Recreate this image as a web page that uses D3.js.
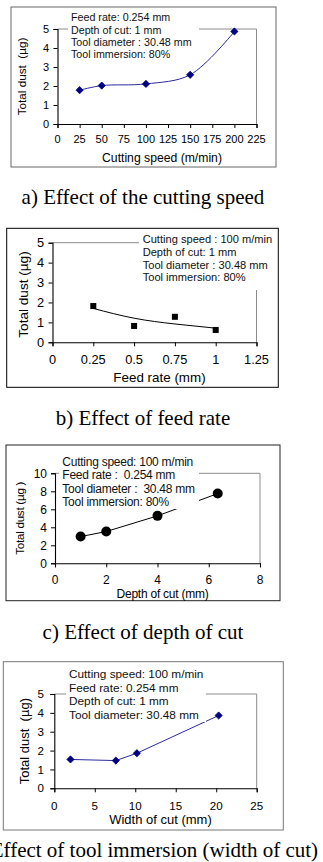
<!DOCTYPE html>
<html><head><meta charset="utf-8">
<script src="https://cdn.jsdelivr.net/npm/d3@7"></script>
<style>
html,body{margin:0;padding:0;background:#fff;}
svg{display:block;}
text{font-family:Arial,"Liberation Sans",sans-serif;fill:#000;white-space:pre;}
.cap{font-family:"Times New Roman","Liberation Serif",serif;}
</style></head>
<body>
<svg id="chart" width="323" height="862"></svg>
<script>
// ---------- data ----------
const speedX = [25, 50, 100, 150, 200];
const speedDust = [1.78, 2.02, 2.11, 2.59, 4.87];
const speedTicksX = [0, 25, 50, 75, 100, 125, 150, 175, 200, 225];
const speedTicksY = [0, 1, 2, 3, 4, 5];
const speedNotes = ["Feed rate: 0.254 mm", "Depth of cut: 1 mm", "Tool diameter : 30.48 mm", "Tool immersion: 80%"];

const feedX = [0.25, 0.5, 0.75, 1.0];
const feedDust = [1.82, 0.82, 1.28, 0.62];
const feedTrendX = [0.25, 0.5, 0.75, 1.0];
const feedTrendY = [1.70, 1.21, 0.92, 0.71];
const feedTicksX = [0, 0.25, 0.5, 0.75, 1, 1.25];
const feedTicksY = [0, 1, 2, 3, 4, 5];
const feedNotes = ["Cutting speed : 100 m/min", "Depth of cut: 1 mm", "Tool diameter : 30.48 mm", "Tool immersion: 80%"];

const depthX = [1, 2, 4, 6.35];
const depthDust = [2.97, 3.53, 5.27, 7.75];
const depthTicksX = [0, 2, 4, 6, 8];
const depthTicksY = [0, 2, 4, 6, 8, 10];
const depthNotes = ["Cutting speed: 100 m/min", "Feed rate :  0.254 mm", "Tool diameter :  30.48 mm", "Tool immersion: 80%"];

const widthX = [2, 7.6, 10.2, 20.3];
const widthDust = [1.53, 1.47, 1.86, 3.86];
const widthTicksX = [0, 5, 10, 15, 20, 25];
const widthTicksY = [0, 1, 2, 3, 4, 5];
const widthNotes = ["Cutting speed: 100 m/min", "Feed rate: 0.254 mm", "Depth of cut: 1 mm", "Tool diameter: 30.48 mm"];

const captions = ["a) Effect of the cutting speed", "b) Effect of feed rate", "c) Effect of depth of cut", "d) Effect of tool immersion (width of cut)"];
const xTitles = ["Cutting speed (m/min)", "Feed rate (mm)", "Depth of cut (mm)", "Width of cut (mm)"];
const yTitles = ["Total dust  (\u00b5g)", "Total dust (\u00b5g)", "Total dust (\u00b5g )", "Total dust  (\u00b5g)"];

// ---------- layout ----------
const svg = d3.select("#chart");

const panels = [
  {xs: speedX, ys: speedDust, tx: speedTicksX, ty: speedTicksY, notes: speedNotes,
   box: [11, 7, 276, 167], boxColor: "#666", plot: [57.5, 29, 256.5, 124],
   tickFont: 11, titleFont: 12.2, yTitleFont: 11.7, noteFont: 10.7, ls: 0,
   xTickY: 142.5, xTitleY: 161.5, yTitleX: 25.5, yLabX: 49,
   notesX: 71, notesY: 21.3, notesDY: 12.25, noteBg: [68, 9, 199, 61],
   line: "smooth", lineColor: "#2a2aa0", marker: "diamond", markerColor: "#000080",
   caption: 0, capY: 204},
  {xs: feedX, ys: feedDust, tx: feedTicksX, ty: feedTicksY, notes: feedNotes,
   box: [6.7, 228.3, 278.3, 387.3], boxColor: "#000", plot: [52.5, 242.7, 256.5, 342.3],
   tickFont: 12.8, titleFont: 13.4, yTitleFont: 13.6, noteFont: 11.1, ls: 0,
   xTickY: 363.5, xTitleY: 382.3, yTitleX: 28, yLabX: 44,
   notesX: 142.7, notesY: 243.3, notesDY: 12.7, noteBg: [139, 231, 275, 290],
   line: "trend", lineColor: "#000", marker: "square", markerColor: "#000",
   caption: 1, capY: 425},
  {xs: depthX, ys: depthDust, tx: depthTicksX, ty: depthTicksY, notes: depthNotes,
   box: [6, 445, 280, 600.7], boxColor: "#222", plot: [55, 473.3, 260, 563.3],
   tickFont: 12, titleFont: 12, yTitleFont: 11.6, noteFont: 12, ls: -0.25,
   xTickY: 583.5, xTitleY: 597.5, yTitleX: 24, yLabX: 47,
   notesX: 62.3, notesY: 466.3, notesDY: 13.1, noteBg: [59, 452, 199, 509],
   line: "linear", lineColor: "#000", marker: "circle", markerColor: "#000",
   caption: 2, capY: 639.3},
  {xs: widthX, ys: widthDust, tx: widthTicksX, ty: widthTicksY, notes: widthNotes,
   box: [3.3, 661.7, 283.3, 830], boxColor: "#777", plot: [54.3, 694, 256.7, 788.3],
   tickFont: 11.6, titleFont: 13, yTitleFont: 13, noteFont: 11.8, ls: 0,
   xTickY: 809.5, xTitleY: 823.8, yTitleX: 28.5, yLabX: 44,
   notesX: 69, notesY: 677.8, notesDY: 13.7, noteBg: [66, 664, 206, 722],
   line: "linear", lineColor: "#2a2aa0", marker: "diamond", markerColor: "#000080",
   caption: 3, capY: 857}
];

// Excel-style square diamond
const excelDiamond = {
  draw(ctx, size) {
    const r = Math.sqrt(size / 2);
    ctx.moveTo(0, -r); ctx.lineTo(r, 0); ctx.lineTo(0, r); ctx.lineTo(-r, 0); ctx.closePath();
  }
};

panels.forEach(p => {
  const g = svg.append("g");
  const [bx0, by0, bx1, by1] = p.box;
  const [px0, py0, px1, py1] = p.plot;
  const x = d3.scaleLinear().domain(d3.extent(p.tx)).range([px0, px1]);
  const y = d3.scaleLinear().domain(d3.extent(p.ty)).range([py1, py0]);

  // outer chart box
  g.append("rect").attr("x", bx0).attr("y", by0).attr("width", bx1 - bx0).attr("height", by1 - by0)
    .attr("fill", "#fff").attr("stroke", p.boxColor).attr("stroke-width", 1);

  // plot area border (top / right, gray)
  g.append("path").attr("d", `M${px0},${py0}H${px1}V${py1}`)
    .attr("fill", "none").attr("stroke", "#8c8c8c").attr("stroke-width", 1);

  // axes
  const xAxis = d3.axisBottom(x).tickValues(p.tx).tickSize(4).tickFormat(() => "");
  const yAxis = d3.axisLeft(y).tickValues(p.ty).tickSize(4).tickFormat(() => "");
  const gx = g.append("g").attr("transform", `translate(0,${py1})`).call(xAxis);
  const gy = g.append("g").attr("transform", `translate(${px0},0)`).call(yAxis);
  [gx, gy].forEach(a => {
    a.select(".domain").attr("stroke", "#000").attr("stroke-width", 1.1);
    a.selectAll(".tick line").attr("stroke", "#000");
  });
  // tick labels
  g.selectAll(".xl").data(p.tx).enter().append("text")
    .attr("x", d => x(d)).attr("y", p.xTickY).attr("text-anchor", "middle")
    .style("font-size", p.tickFont + "px").text(d => d);
  g.selectAll(".yl").data(p.ty).enter().append("text")
    .attr("x", p.yLabX).attr("y", d => y(d)).attr("dy", "0.36em").attr("text-anchor", "end")
    .style("font-size", p.tickFont + "px").text(d => d);

  // titles
  g.append("text").attr("x", (px0 + px1) / 2 + 5).attr("y", p.xTitleY).attr("text-anchor", "middle")
    .style("font-size", p.titleFont + "px").style("letter-spacing", p.ls + "px").text(xTitles[p.caption]);
  g.append("text").attr("transform", `translate(${p.yTitleX},${(py0 + py1) / 2 + (p.caption === 1 ? 2 : 0)}) rotate(-90)`)
    .attr("text-anchor", "middle").style("font-size", p.yTitleFont + "px").style("letter-spacing", p.ls + "px")
    .text(yTitles[p.caption]);

  // series
  const pts = p.xs.map((d, i) => [d, p.ys[i]]);
  if (p.line === "smooth") {
    g.append("path").datum(pts)
      .attr("d", d3.line().x(d => x(d[0])).y(d => y(d[1])).curve(d3.curveCatmullRom.alpha(0.5)))
      .attr("fill", "none").attr("stroke", p.lineColor).attr("stroke-width", 1);
  } else if (p.line === "linear") {
    g.append("path").datum(pts)
      .attr("d", d3.line().x(d => x(d[0])).y(d => y(d[1])))
      .attr("fill", "none").attr("stroke", p.lineColor).attr("stroke-width", 1);
  } else if (p.line === "trend") {
    const tp = feedTrendX.map((d, i) => [d, feedTrendY[i]]);
    g.append("path").datum(tp)
      .attr("d", d3.line().x(d => x(d[0])).y(d => y(d[1])).curve(d3.curveNatural))
      .attr("fill", "none").attr("stroke", "#000").attr("stroke-width", 1);
  }

  // markers
  if (p.marker === "diamond") {
    g.selectAll(".m").data(pts).enter().append("path")
      .attr("transform", d => `translate(${x(d[0])},${y(d[1])})`)
      .attr("d", d3.symbol(excelDiamond, 26)).attr("fill", p.markerColor)
      .attr("stroke", p.markerColor).attr("stroke-width", 0.8);
  } else if (p.marker === "square") {
    g.selectAll(".m").data(pts).enter().append("rect")
      .attr("x", d => x(d[0]) - 3).attr("y", d => y(d[1]) - 3)
      .attr("width", 6).attr("height", 6).attr("fill", p.markerColor);
  } else {
    g.selectAll(".m").data(pts).enter().append("circle")
      .attr("cx", d => x(d[0])).attr("cy", d => y(d[1])).attr("r", 5).attr("fill", p.markerColor);
  }

  // notes box (white, covers border)
  const [nx0, ny0, nx1, ny1] = p.noteBg;
  g.append("rect").attr("x", nx0).attr("y", ny0).attr("width", nx1 - nx0).attr("height", ny1 - ny0).attr("fill", "#fff");
  g.selectAll(".n").data(p.notes).enter().append("text")
    .attr("x", p.notesX).attr("y", (d, i) => p.notesY + i * p.notesDY)
    .style("font-size", p.noteFont + "px").style("letter-spacing", p.ls + "px").style("fill", "#111").text(d => d);

  // caption
  svg.append("text").attr("class", "cap").attr("x", 143).attr("y", p.capY).attr("text-anchor", "middle")
    .style("font-size", "21px").text(captions[p.caption]);
});
</script>
</body></html>
